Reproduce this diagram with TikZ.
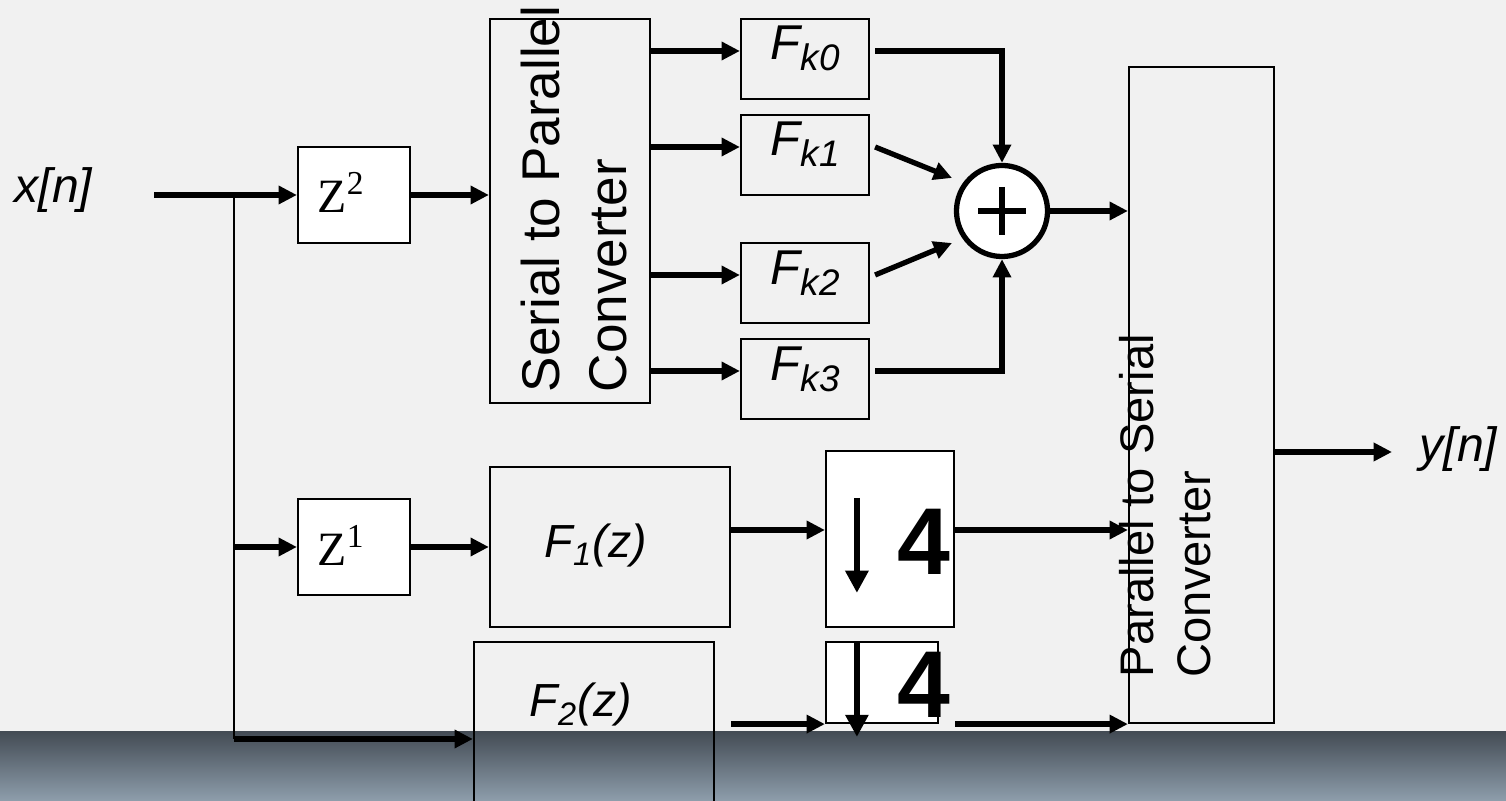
\documentclass[tikz,border=0pt]{standalone}
\usepackage{fontspec}
\setmainfont{Liberation Sans}
\newfontfamily\zfont{Liberation Serif}
\usetikzlibrary{arrows.meta,calc}
\definecolor{bgc}{RGB}{241,241,241}
\definecolor{bandtop}{RGB}{68,76,85}
\definecolor{bandbot}{RGB}{142,158,172}
\newcommand\fsub[1]{\raisebox{-0.22em}{\fontsize{10.5}{12}\selectfont #1}}
\tikzset{
  box/.style={draw, line width=0.6pt, rectangle, inner sep=0pt},
  wbox/.style={box, fill=white},
  thk/.style={line width=1.5pt},
  arr/.style={thk, -{Triangle[length=5.2pt,width=5pt]}},
  darr/.style={line width=1.6pt, -{Triangle[length=6.3pt,width=6.3pt]}},
  lbl/.style={inner sep=0pt, anchor=base west},
  flab/.style={lbl, font=\fontsize{13.9}{16}\selectfont\itshape},
  zlab/.style={lbl, font=\zfont\fontsize{13.6}{16}\selectfont},
  four/.style={lbl, font=\fontsize{27}{30}\selectfont\bfseries},
}
\begin{document}
\begin{tikzpicture}[x=0.01cm, y=-0.01cm]
\clip (0,0) rectangle (1506,801);
\fill[bgc] (0,0) rectangle (1506,801);
\shade[top color=bandtop, bottom color=bandbot] (0,732) rectangle (1506,801);

% boxes
\node[wbox, minimum width=1.12cm, minimum height=0.96cm] (z2) at (354,195) {};
\node[wbox, minimum width=1.12cm, minimum height=0.96cm] (z1) at (354,547) {};
\node[box, minimum width=1.60cm, minimum height=3.84cm] (s2p) at (570,211) {};
\node[box, minimum width=1.28cm, minimum height=0.80cm] (fk0) at (805,59) {};
\node[box, minimum width=1.28cm, minimum height=0.80cm] (fk1) at (805,155) {};
\node[box, minimum width=1.28cm, minimum height=0.80cm] (fk2) at (805,283) {};
\node[box, minimum width=1.28cm, minimum height=0.80cm] (fk3) at (805,379) {};
\node[draw, circle, fill=white, line width=1.5pt, minimum size=0.91cm, inner sep=0pt] (sum) at (1002,211) {};
\node[box, minimum width=1.45cm, minimum height=6.56cm] (p2s) at (1201.5,395) {};
\node[box, minimum width=2.40cm, minimum height=1.60cm] (f1) at (610,547) {};
\node[box, minimum width=2.40cm, minimum height=1.90cm] (f2) at (594,737) {};
\node[wbox, minimum width=1.28cm, minimum height=1.76cm] (d1) at (890,539) {};
\node[wbox, minimum width=1.12cm, minimum height=0.81cm] (d2) at (882,682.5) {};

% labels
\node[lbl, font=\fontsize{13.7}{16}\selectfont\itshape] (xn) at (14,203) {x[n]};
\node[lbl, font=\fontsize{13.7}{16}\selectfont\itshape] (yn) at (1419,462) {y[n]};
\node[zlab] (z2t) at (317,213) {Z\textsuperscript{2}};
\node[zlab] (z1t) at (317,566) {Z\textsuperscript{1}};
\node[flab] (fk0t) at (770,60) {F\fsub{k0}};
\node[flab] (fk1t) at (770,156) {F\fsub{k1}};
\node[flab] (fk2t) at (770,285) {F\fsub{k2}};
\node[flab] (fk3t) at (770,381) {F\fsub{k3}};
\node[flab, font=\fontsize{13.2}{16}\selectfont\itshape] (f1t) at (544,558) {F\textsubscript{1}(z)};
\node[flab, font=\fontsize{13.2}{16}\selectfont\itshape] (f2t) at (529,717) {F\textsubscript{2}(z)};
\node[four] (d1t) at (897,575) {4};
\node[four] (d2t) at (897,718) {4};
\node[rotate=90, anchor=north west, inner sep=0pt, align=left,
      font=\fontsize{15.1}{19}\selectfont] (s2pt) at (520,393) {Serial to Parallel\\Converter};
\node[rotate=90, anchor=north west, inner sep=0pt, align=left,
      font=\fontsize{13.4}{16.2}\selectfont] (p2st) at (1119,678) {Parallel to Serial\\Converter};

% symbol parts
\draw[darr] ($(d1.north west)+(32,48)$) -- ($(d1.north west)+(32,143)$);
\draw[darr] ($(d2.north west)+(32,1)$) -- ($(d2.north west)+(32,96)$);
\draw[line width=1.7pt] ($(sum.center)+(-24,0)$) -- ($(sum.center)+(24,0)$);
\draw[line width=1.7pt] ($(sum.center)+(0,-24)$) -- ($(sum.center)+(0,24)$);

% coordinates
\coordinate (xin) at (154,195);
\coordinate (j1) at (234,195);
\coordinate (j3) at (234,739);
\coordinate (yend) at (1392,452);
\coordinate (a0) at ($(fk0.west)+(0,-8)$);
\coordinate (a1) at ($(fk1.west)+(0,-8)$);
\coordinate (a2) at ($(fk2.west)+(0,-8)$);
\coordinate (a3) at ($(fk3.west)+(0,-8)$);
\coordinate (b0) at ($(fk0.east)+(5,-8)$);
\coordinate (b1) at ($(fk1.east)+(5,-8)$);
\coordinate (b2) at ($(fk2.east)+(5,-8)$);
\coordinate (b3) at ($(fk3.east)+(5,-8)$);
\coordinate (f1o) at ($(f1.east)+(0,-17)$);

% connectors
\draw[arr] (xin) -- (z2.west);
\draw[line width=0.75pt] (j1) -- (j3);
\draw[arr] (j1 |- z1.west) -- (z1.west);
\draw[arr] (j3) -- (j3 -| f2.west);
\draw[arr] (z2.east) -- (z2.east -| s2p.west);
\draw[arr] (a0 -| s2p.east) -- (a0);
\draw[arr] (a1 -| s2p.east) -- (a1);
\draw[arr] (a2 -| s2p.east) -- (a2);
\draw[arr] (a3 -| s2p.east) -- (a3);
\draw[arr] (b0) -| (sum.north);
\draw[arr] (b1) -- ($(sum.center)+(-50,-33)$);
\draw[arr] (b2) -- ($(sum.center)+(-50,32)$);
\draw[arr] (b3) -| (sum.south);
\draw[arr] (sum.east) -- (sum.east -| p2s.west);
\draw[arr] (z1.east) -- (z1.east -| f1.west);
\draw[arr] (f1o) -- (f1o -| d1.west);
\draw[arr] (f1o -| d1.east) -- (f1o -| p2s.west);
\draw[arr] ($(d2.south west -| f2.east)+(16,0)$) -- (d2.south west);
\draw[arr] ($(d2.south east)+(16,0)$) -- (d2.south east -| p2s.west);
\draw[arr] (p2s.east |- yend) -- (yend);
\end{tikzpicture}
\end{document}
